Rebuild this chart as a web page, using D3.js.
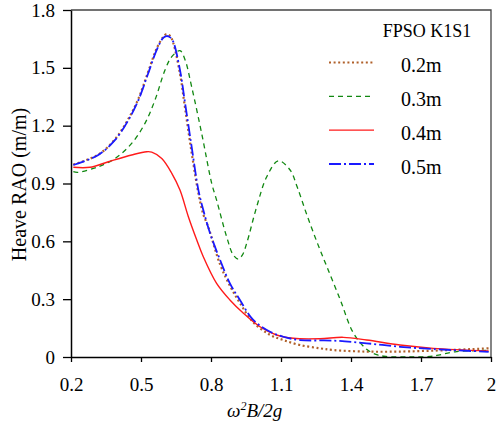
<!DOCTYPE html>
<meta charset="utf-8">
<style>
body { margin: 0; background: #fff; }
text { font-family: "Liberation Serif", "Times New Roman", Tinos, "DejaVu Serif Condensed", serif; fill: #000; }
</style>
<body>
<script src="https://d3js.org/d3.v7.min.js"></script>
<script>

var width = 499,
    height = 429,
    margin = {top: 10, right: 8, bottom: 72, left: 71};

// tick values and labels
var xTicks = [0.2, 0.5, 0.8, 1.1, 1.4, 1.7, 2.0];
var xTickLabels = ["0.2", "0.5", "0.8", "1.1", "1.4", "1.7", "2"];
var yTicks = [0, 0.3, 0.6, 0.9, 1.2, 1.5, 1.8];
var yTickLabels = ["0", "0.3", "0.6", "0.9", "1.2", "1.5", "1.8"];

var seriesNames = ["0.2m", "0.3m", "0.4m", "0.5m"];

// 0.2m
var x02 = [0.21, 0.317, 0.389, 0.446, 0.489, 0.531, 0.567, 0.595, 0.61, 0.625, 0.638, 0.667, 0.689, 0.717, 0.746, 0.767, 0.788, 0.839, 0.881, 0.924, 0.981, 1.053, 1.11, 1.181, 1.267, 1.324, 1.467, 1.6, 1.824, 1.99];
var y02 = [0.998, 1.05, 1.13, 1.235, 1.34, 1.48, 1.60, 1.66, 1.675, 1.665, 1.63, 1.47, 1.29, 1.06, 0.85, 0.74, 0.676, 0.48, 0.37, 0.28, 0.18, 0.115, 0.088, 0.062, 0.045, 0.036, 0.028, 0.028, 0.036, 0.045];

// 0.3m
var x03 = [0.21, 0.23, 0.317, 0.389, 0.46, 0.517, 0.56, 0.603, 0.632, 0.667, 0.689, 0.717, 0.76, 0.803, 0.824, 0.867, 0.895, 0.917, 0.935, 0.953, 0.996, 1.039, 1.089, 1.139, 1.17, 1.21, 1.253, 1.296, 1.353, 1.41, 1.467, 1.51, 1.55, 1.65, 1.74, 1.767, 1.853, 1.99];
var y03 = [0.961, 0.958, 0.987, 1.03, 1.108, 1.212, 1.333, 1.489, 1.558, 1.589, 1.541, 1.402, 1.16, 0.901, 0.814, 0.624, 0.53, 0.508, 0.53, 0.59, 0.78, 0.935, 1.018, 0.97, 0.88, 0.74, 0.60, 0.47, 0.30, 0.125, 0.04, 0.012, 0.003, 0.0, 0.003, 0.008, 0.028, 0.034];

// 0.4m
var x04 = [0.21, 0.281, 0.36, 0.46, 0.524, 0.546, 0.589, 0.632, 0.667, 0.703, 0.739, 0.767, 0.824, 0.881, 0.939, 1.01, 1.081, 1.153, 1.267, 1.367, 1.467, 1.61, 1.753, 1.99];
var y04 = [0.984, 0.984, 1.013, 1.048, 1.065, 1.063, 1.03, 0.953, 0.866, 0.728, 0.607, 0.52, 0.382, 0.296, 0.227, 0.157, 0.114, 0.097, 0.095, 0.102, 0.088, 0.062, 0.045, 0.031];

// 0.5m
var x05 = [0.21, 0.317, 0.389, 0.446, 0.489, 0.531, 0.567, 0.595, 0.61, 0.625, 0.638, 0.667, 0.689, 0.717, 0.746, 0.767, 0.796, 0.839, 0.881, 0.924, 0.981, 1.053, 1.11, 1.181, 1.324, 1.467, 1.61, 1.753, 1.99];
var y05 = [0.996, 1.048, 1.126, 1.229, 1.333, 1.472, 1.592, 1.655, 1.665, 1.658, 1.636, 1.489, 1.316, 1.091, 0.866, 0.762, 0.642, 0.503, 0.382, 0.296, 0.192, 0.131, 0.105, 0.088, 0.085, 0.071, 0.053, 0.041, 0.027];

var series = [
  {name: seriesNames[0], xs: x02, ys: y02, color: "#b0602a", width: 2.2, dash: "2,2.6"},
  {name: seriesNames[1], xs: x03, ys: y03, color: "#118811", width: 1.3, dash: "5,4"},
  {name: seriesNames[2], xs: x04, ys: y04, color: "#ff1a1a", width: 1.4, dash: null},
  {name: seriesNames[3], xs: x05, ys: y05, color: "#1a1aff", width: 1.8, dash: "12,3,2,3"}
];

var svg = d3.select("body").append("svg")
    .attr("width", width)
    .attr("height", height);

var x = d3.scaleLinear().domain([0.2, 2.0]).range([margin.left, width - margin.right]);
var y = d3.scaleLinear().domain([0, 1.8]).range([height - margin.bottom, margin.top]);

// frame top + right
svg.append("path")
  .attr("d", "M" + x(0.2) + "," + y(1.8) + "H" + x(2.0) + "V" + y(0))
  .attr("fill", "none")
  .attr("stroke", "#444")
  .attr("stroke-width", 1.3);

svg.append("clipPath").attr("id", "clip")
  .append("rect")
  .attr("x", x(0.2)).attr("y", y(1.8))
  .attr("width", x(2.0) - x(0.2)).attr("height", y(0) - y(1.8));

var line = d3.line()
  .x(function(d){ return x(d[0]); })
  .y(function(d){ return y(d[1]); })
  .curve(d3.curveCatmullRom.alpha(0.5));

var plot = svg.append("g").attr("clip-path", "url(#clip)");
series.forEach(function(s){
  var pts = s.xs.map(function(v, i){ return [v, s.ys[i]]; });
  plot.append("path")
    .attr("d", line(pts))
    .attr("fill", "none")
    .attr("stroke", s.color)
    .attr("stroke-width", s.width)
    .attr("stroke-dasharray", s.dash);
});

var xAxis = d3.axisBottom(x)
  .tickValues(xTicks)
  .tickFormat(function(d, i){ return xTickLabels[i]; })
  .tickSize(5)
  .tickPadding(16)
  .tickSizeOuter(0);

var yAxis = d3.axisLeft(y)
  .tickValues(yTicks)
  .tickFormat(function(d, i){ return yTickLabels[i]; })
  .tickSize(8)
  .tickPadding(8)
  .tickSizeOuter(0);

var gx = svg.append("g")
  .attr("transform", "translate(0," + y(0) + ")")
  .call(xAxis);
var gy = svg.append("g")
  .attr("transform", "translate(" + x(0.2) + ",0)")
  .call(yAxis);

[gx, gy].forEach(function(g){
  g.attr("font-family", null);
  g.select(".domain").attr("stroke", "#000").attr("stroke-width", 1.5);
  g.selectAll(".tick line").attr("stroke", "#000").attr("stroke-width", 1.3);
  g.selectAll(".tick text").attr("font-size", 19).attr("fill", "#000");
});

// axis titles
svg.append("text")
  .attr("x", 227)
  .attr("y", 417)
  .attr("font-size", 19)
  .attr("font-style", "italic")
  .html("ω<tspan font-size='12' dy='-7'>2</tspan><tspan dy='7'>B/2g</tspan>");

svg.append("text")
  .attr("transform", "translate(26," + ((y(0) + y(1.8)) / 2 + 1) + ") rotate(-90)")
  .attr("text-anchor", "middle")
  .attr("font-size", 20)
  .text("Heave RAO (m/m)");

// legend
svg.append("text")
  .attr("x", 427)
  .attr("y", 36.5)
  .attr("text-anchor", "middle")
  .attr("font-size", 18)
  .text("FPSO K1S1");

var legY = d3.scaleLinear().domain([0, 3]).range([62.5, 164]);
var leg = svg.selectAll(".leg")
  .data(series)
  .enter()
  .append("g");

leg.append("line")
  .attr("x1", 329).attr("x2", 374)
  .attr("y1", function(d, i){ return legY(i); })
  .attr("y2", function(d, i){ return legY(i); })
  .attr("stroke", function(d){ return d.color; })
  .attr("stroke-width", function(d){ return d.width; })
  .attr("stroke-dasharray", function(d){ return d.dash; });

leg.append("text")
  .attr("x", 401)
  .attr("y", function(d, i){ return legY(i) + 9.5; })
  .attr("font-size", 20)
  .text(function(d){ return d.name; });

</script>
